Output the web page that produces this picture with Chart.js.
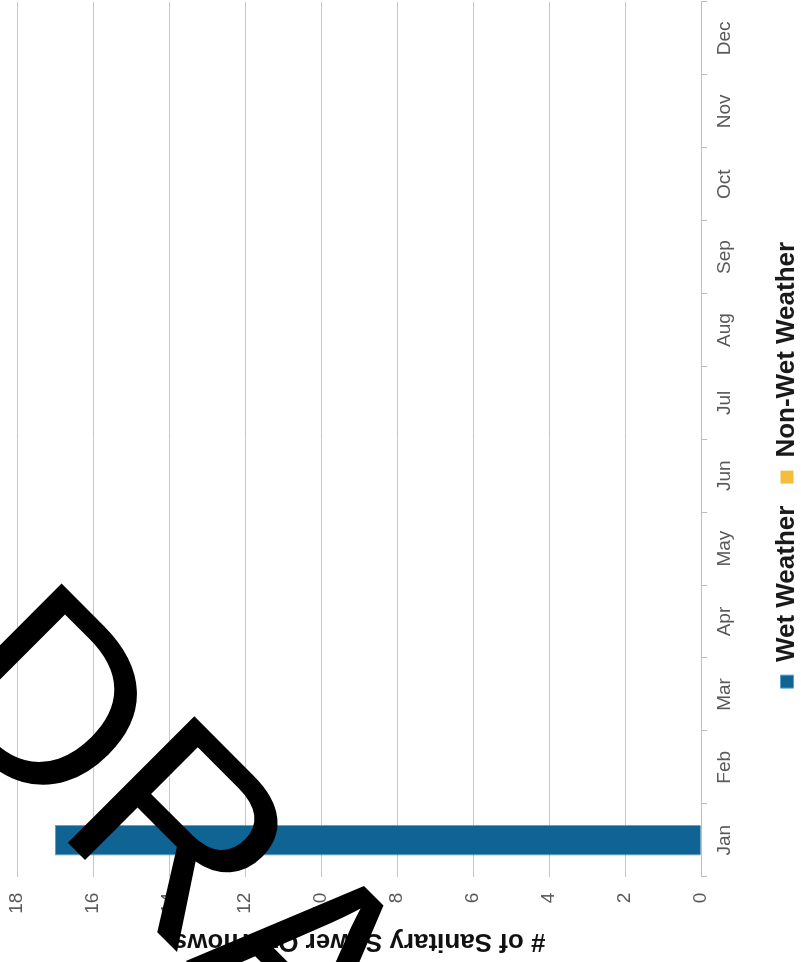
<!DOCTYPE html>
<html>
<head>
<meta charset="utf-8">
<script src="https://cdn.jsdelivr.net/npm/chart.js@4/dist/chart.umd.min.js"></script>
<style>
  html, body { margin: 0; padding: 0; background: #fff; overflow: hidden; }
  body { width: 801px; height: 962px; position: relative; }
  /* the chart is drawn upright, then turned a quarter turn to match the scan */
  #wrap { position: absolute; left: 0; top: 0; width: 962px; height: 801px;
          transform-origin: 0 0; transform: translate(0, 962px) rotate(-90deg); }
  #stamp { position: absolute; left: 0; top: 0; pointer-events: none; }
</style>
</head>
<body>
<div id="wrap"><canvas id="chart" width="962" height="801"></canvas></div>
<canvas id="stamp" width="801" height="962"></canvas>
<script>
const months = ['Jan', 'Feb', 'Mar', 'Apr', 'May', 'Jun', 'Jul', 'Aug', 'Sep', 'Oct', 'Nov', 'Dec'];
const wetWeather = [17, 0, 0, 0, 0, 0, 0, 0, 0, 0, 0, 0];
const nonWetWeather = [0, 0, 0, 0, 0, 0, 0, 0, 0, 0, 0, 0];
const yMax = 18;
const yStep = 2;
const yTitle = '# of Sanitary Sewer Overflows';
const stampText = 'DRAFT';

const font = "'Liberation Sans', Arial, sans-serif";

// the legend sits a bit off-centre in the scan, so nudge it after layout
const legendNudge = {
    id: 'legendNudge',
    afterLayout(chart) {
        const l = chart.legend;
        if (!l) return;
        l.left += 17;
        l.right += 17;
        l.top += 10;
        l.bottom += 10;
    }
};

const ctx = document.getElementById('chart').getContext('2d');

new Chart(ctx, {
    type: 'bar',
    data: {
        labels: months,
        datasets: [
            {
                label: 'Wet Weather',
                backgroundColor: '#0f6494',
                borderColor: '#5a9fd0',
                borderWidth: 1,
                data: wetWeather
            },
            {
                label: 'Non-Wet Weather',
                backgroundColor: '#f4bd3c',
                borderWidth: 0,
                data: nonWetWeather
            }
        ]
    },
    options: {
        responsive: false,
        animation: false,
        layout: { padding: { top: 17, right: 2, bottom: 1, left: 0 } },
        datasets: { bar: { barPercentage: 0.42, categoryPercentage: 1 } },
        plugins: {
            tooltip: { enabled: false },
            legend: {
                position: 'bottom',
                labels: {
                    boxWidth: 13,
                    boxHeight: 13,
                    padding: 22,
                    color: '#1a1a1a',
                    font: { family: font, size: 26, weight: 'bold' }
                }
            }
        },
        scales: {
            x: {
                stacked: true,
                grid: { drawOnChartArea: false, tickLength: 6, color: '#bdbdbd' },
                border: { color: '#bdbdbd' },
                ticks: { padding: 6, color: '#595959', maxRotation: 0, font: { family: font, size: 19 } }
            },
            y: {
                stacked: true,
                min: 0,
                max: yMax,
                grid: { color: '#c6c6c6', tickLength: 12, tickColor: 'rgba(0,0,0,0)' },
                border: { display: false },
                ticks: { stepSize: yStep, padding: 4, color: '#595959', font: { family: font, size: 19 } },
                title: {
                    display: true,
                    text: yTitle,
                    color: '#111',
                    padding: { top: 5, bottom: 8 },
                    font: { family: font, size: 26, weight: 'bold' }
                }
            }
        }
    },
    plugins: [legendNudge]
});

// watermark stamped across the page
const sctx = document.getElementById('stamp').getContext('2d');
sctx.translate(-80, 695);
sctx.rotate(Math.PI / 4);
sctx.fillStyle = '#000';
sctx.font = "260px 'Liberation Sans', Arial, sans-serif";
sctx.textBaseline = 'alphabetic';
sctx.fillText(stampText, 0, 0);
</script>
</body>
</html>
